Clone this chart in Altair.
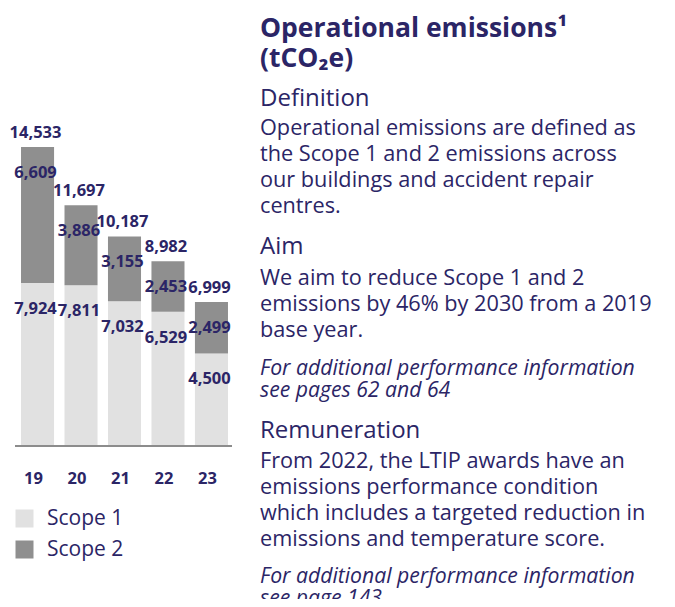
import altair as alt
import pandas as pd

years = ["19", "20", "21", "22", "23"]
scope1 = [7924, 7811, 7032, 6529, 4500]
scope2 = [6609, 3886, 3155, 2453, 2499]
totals = [14533, 11697, 10187, 8982, 6999]
series = ["Scope 1", "Scope 2"]

title_lines = ["Operational emissions\u00b9", "(tCO\u2082e)"]
definition_head = "Definition"
definition_body = ["Operational emissions are defined as",
                   "the Scope 1 and 2 emissions across",
                   "our buildings and accident repair",
                   "centres."]
aim_head = "Aim"
aim_body = ["We aim to reduce Scope 1 and 2",
            "emissions by 46% by 2030 from a 2019",
            "base year."]
aim_note = ["For additional performance information",
            "see pages 62 and 64"]
rem_head = "Remuneration"
rem_body = ["From 2022, the LTIP awards have an",
            "emissions performance condition",
            "which includes a targeted reduction in",
            "emissions and temperature score."]
rem_note = ["For additional performance information",
            "see page 143"]

NAVY = "#2b2566"
FONT = "Open Sans"

long_rows = []
for i, y in enumerate(years):
    long_rows.append({"year": y, "scope": series[0], "value": scope1[i], "ord": 0})
    long_rows.append({"year": y, "scope": series[1], "value": scope2[i], "ord": 1})
long_df = pd.DataFrame(long_rows)
wide_df = pd.DataFrame({"year": years, "s1": scope1, "s2": scope2, "total": totals})

xscale = alt.Scale(domain=years, range=[7.8, 225.2], paddingInner=0.24, paddingOuter=0.12)
yscale = alt.Scale(domain=[0, 15000], range=[438, 129.4], nice=False, zero=True)

bars = alt.Chart(long_df).mark_bar().encode(
    x=alt.X("year:N", scale=xscale, axis=None),
    y=alt.Y("value:Q", stack="zero", scale=yscale, axis=None),
    color=alt.Color("scope:N",
                    scale=alt.Scale(domain=series, range=["#e1e1e1", "#8f8f8f"]),
                    legend=alt.Legend(orient="none", legendX=6, legendY=500,
                                      title=None, symbolType="square",
                                      symbolSize=324, symbolStrokeWidth=0,
                                      labelFont=FONT, labelFontSize=21,
                                      labelColor=NAVY, labelOffset=12,
                                      rowPadding=9, padding=0,
                                      direction="vertical")),
    order=alt.Order("ord:Q"),
)

lab_style = dict(font=FONT, fontWeight="bold", fontSize=16.5, color=NAVY,
                 baseline="middle", align="center")

total_lab = alt.Chart(wide_df).mark_text(dy=-14, dx=-2, **lab_style).encode(
    x=alt.X("year:N", scale=xscale), y=alt.Y("total:Q", scale=yscale),
    text=alt.Text("total:Q", format=",d"))
s2_lab = alt.Chart(wide_df).mark_text(dy=26, dx=-2, **lab_style).encode(
    x=alt.X("year:N", scale=xscale), y=alt.Y("total:Q", scale=yscale),
    text=alt.Text("s2:Q", format=",d"))
s1_lab = alt.Chart(wide_df).mark_text(dy=26, dx=-2, **lab_style).encode(
    x=alt.X("year:N", scale=xscale), y=alt.Y("s1:Q", scale=yscale),
    text=alt.Text("s1:Q", format=",d"))
x_lab = alt.Chart(wide_df).mark_text(dx=-4, **lab_style).encode(
    x=alt.X("year:N", scale=xscale), y=alt.value(471),
    text="year:N")

axis_line = alt.Chart(wide_df).mark_rule(color="#8c8c8c", strokeWidth=2).encode(
    x=alt.value(7), x2=alt.value(224), y=alt.Y("datum_zero:Q", scale=yscale)
).transform_calculate(datum_zero="0")


def txt(lines, y, size, weight="normal", style="normal", lh=26.2):
    return alt.Chart(wide_df.head(1)).mark_text(
        text=lines, font=FONT, fontSize=size, fontWeight=weight, fontStyle=style,
        color=NAVY, align="left", baseline="alphabetic", lineHeight=lh
    ).encode(x=alt.value(252), y=alt.value(y))


texts = [
    txt(title_lines, 28.7, 26.5, weight="bold", lh=30),
    txt([definition_head], 98, 24),
    txt(definition_body, 127, 21.7, lh=26.1),
    txt([aim_head], 246.3, 24),
    txt(aim_body, 277, 21.7, lh=26),
    txt(aim_note, 367, 21.2, style="italic", lh=21.7),
    txt([rem_head], 430.3, 24),
    txt(rem_body, 460.3, 21.7, lh=26),
    txt(rem_note, 575.3, 21.2, style="italic", lh=21.7),
]

chart = alt.layer(bars, axis_line, total_lab, s2_lab, s1_lab, x_lab, *texts).properties(
    width=659, height=591, padding=0, autosize=alt.AutoSizeParams(type="none")
).configure_view(stroke=None)

chart.save("out.html", embed_options={"renderer": "svg", "actions": False})
